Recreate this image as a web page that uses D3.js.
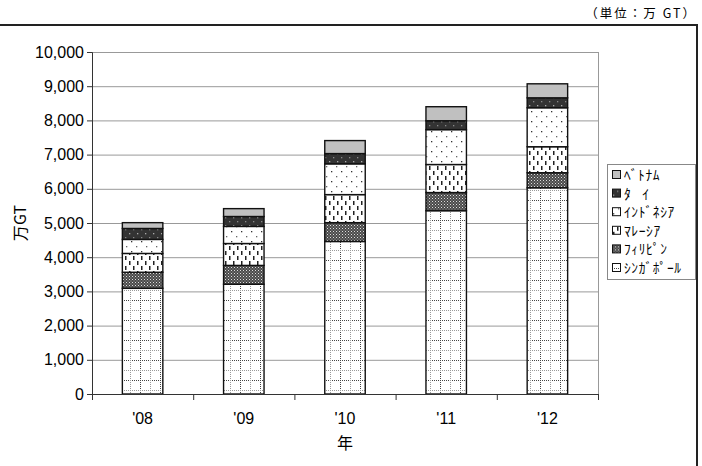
<!DOCTYPE html>
<html>
<head>
<meta charset="utf-8">
<script src="https://cdn.jsdelivr.net/npm/d3@7"></script>
<style>
  body { margin: 0; background: #fff; }
  text { font-family: "Liberation Sans", Arial, sans-serif; }
</style>
</head>
<body>
<div id="container"></div>
<script>
// data (万GT)
const years = ["'08", "'09", "'10", "'11", "'12"];
const countries = ["ｼﾝｶﾞﾎﾟｰﾙ", "ﾌｨﾘﾋﾟﾝ", "ﾏﾚｰｼｱ", "ｲﾝﾄﾞﾈｼｱ", "ﾀ   ｲ", "ﾍﾞﾄﾅﾑ"];
const singapore = [3090, 3210, 4460, 5360, 6030];
const philippines = [470, 550, 550, 530, 440];
const malaysia = [550, 640, 820, 820, 760];
const indonesia = [410, 500, 900, 1020, 1140];
const thailand = [320, 290, 300, 260, 290];
const vietnam = [170, 230, 380, 410, 410];
const yTicks = [0, 1000, 2000, 3000, 4000, 5000, 6000, 7000, 8000, 9000, 10000];

const seriesVals = [singapore, philippines, malaysia, indonesia, thailand, vietnam];
const keys = ["sg", "ph", "my", "id", "th", "vn"];

const width = 702, height = 466;
const margin = { top: 52, bottom: 72, left: 92, right: 104 };

const rows = years.map((y, i) => {
  const r = { year: y };
  keys.forEach((k, j) => r[k] = seriesVals[j][i]);
  return r;
});

const svg = d3.select("#container").append("svg")
  .attr("width", width).attr("height", height);

// patterns
const defs = svg.append("defs");
function pat(id, w, h, bg) {
  const p = defs.append("pattern").attr("id", id)
    .attr("patternUnits", "userSpaceOnUse").attr("width", w).attr("height", h);
  p.append("rect").attr("width", w).attr("height", h).attr("fill", bg);
  return p;
}
// singapore: dotted plaid
let p = pat("p-sg", 20, 20, "#fff");
[0, 10].forEach((o, i) => {
  const c = i === 0 ? "#444" : "#999";
  p.append("line").attr("x1", o + 0.5).attr("x2", o + 0.5).attr("y1", 0).attr("y2", 20)
    .attr("stroke", c).attr("stroke-dasharray", "1,1");
  p.append("line").attr("y1", o + 0.5).attr("y2", o + 0.5).attr("x1", 0).attr("x2", 20)
    .attr("stroke", c).attr("stroke-dasharray", "1,1");
});
// philippines: dense dark check
p = pat("p-ph", 3, 3, "#4a4a4a");
p.append("rect").attr("x", 0).attr("y", 0).attr("width", 1).attr("height", 1).attr("fill", "#ddd");
p.append("rect").attr("x", 1.5).attr("y", 1.5).attr("width", 1).attr("height", 1).attr("fill", "#aaa");
// malaysia: vertical dashes
p = pat("p-my", 8, 10, "#fff");
p.append("rect").attr("x", 1).attr("y", 1).attr("width", 1.5).attr("height", 4).attr("fill", "#222");
p.append("rect").attr("x", 5).attr("y", 6).attr("width", 1.5).attr("height", 4).attr("fill", "#222");
// indonesia: sparse dots
p = pat("p-id", 10, 10, "#fff");
p.append("rect").attr("x", 1).attr("y", 1).attr("width", 1.3).attr("height", 1.3).attr("fill", "#333");
p.append("rect").attr("x", 6).attr("y", 6).attr("width", 1.3).attr("height", 1.3).attr("fill", "#666");
// thailand: dark with light dots
p = pat("p-th", 8, 8, "#333");
p.append("rect").attr("x", 1).attr("y", 1).attr("width", 1.3).attr("height", 1.3).attr("fill", "#aaa");
p.append("rect").attr("x", 5).attr("y", 5).attr("width", 1.3).attr("height", 1.3).attr("fill", "#888");
// vietnam: plain grey
const fills = ["url(#p-sg)", "url(#p-ph)", "url(#p-my)", "url(#p-id)", "url(#p-th)", "#c0c0c0"];

const x = d3.scaleBand().domain(years)
  .range([margin.left, width - margin.right])
  .paddingInner(0.6).paddingOuter(0.3);
const y = d3.scaleLinear().domain([0, 10000])
  .range([height - margin.bottom, margin.top]);

// outer frame
svg.append("path")
  .attr("d", `M0,25 H697 V${height + 2}`)
  .attr("fill", "none").attr("stroke", "#222").attr("stroke-width", 2);

svg.append("text")
  .attr("x", 697).attr("y", 18)
  .attr("text-anchor", "end")
  .style("font-family", "'Noto Sans CJK JP', sans-serif")
  .style("font-size", "12.5px")
  .style("letter-spacing", "2px")
  .text("（単位：万 GT）");

// gridlines
svg.append("g").selectAll("line")
  .data(yTicks.filter(d => d > 0))
  .join("line")
  .attr("x1", margin.left).attr("x2", width - margin.right)
  .attr("y1", d => y(d) + 0.5).attr("y2", d => y(d) + 0.5)
  .attr("stroke", "#999");
svg.append("line")
  .attr("x1", width - margin.right + 0.5).attr("x2", width - margin.right + 0.5)
  .attr("y1", y(10000)).attr("y2", y(0))
  .attr("stroke", "#999");

// stacked bars
const stack = d3.stack().keys(keys)(rows);
svg.append("g").selectAll("g")
  .data(stack)
  .join("g")
  .attr("fill", (d, i) => fills[i])
  .selectAll("rect")
  .data(d => d)
  .join("rect")
  .attr("x", d => x(d.data.year))
  .attr("y", d => y(d[1]))
  .attr("width", x.bandwidth())
  .attr("height", d => y(d[0]) - y(d[1]))
  .attr("stroke", "#111").attr("stroke-width", 1.4);

// y axis
const yAxis = svg.append("g")
  .attr("transform", `translate(${margin.left},0)`)
  .call(d3.axisLeft(y).tickValues(yTicks).tickSize(5).tickPadding(3)
    .tickFormat(d3.format(",")));
yAxis.select(".domain").attr("stroke", "#333");
yAxis.selectAll(".tick line").attr("stroke", "#333");
yAxis.selectAll("text").style("font-size", "16px").attr("fill", "#000");

// x axis
const base = y(0);
svg.append("line")
  .attr("x1", margin.left).attr("x2", width - margin.right)
  .attr("y1", base + 0.5).attr("y2", base + 0.5).attr("stroke", "#333");
const step = x.step();
svg.append("g").selectAll("line")
  .data(d3.range(years.length + 1))
  .join("line")
  .attr("x1", i => margin.left + i * step + 0.5).attr("x2", i => margin.left + i * step + 0.5)
  .attr("y1", base).attr("y2", base + 6).attr("stroke", "#333");
svg.append("g").selectAll("text")
  .data(years)
  .join("text")
  .attr("x", d => x(d) + x.bandwidth() / 2)
  .attr("y", base + 30)
  .attr("text-anchor", "middle")
  .style("font-size", "16px")
  .text(d => d);

svg.append("text")
  .attr("x", (margin.left + width - margin.right) / 2)
  .attr("y", base + 55)
  .attr("text-anchor", "middle")
  .style("font-family", "'Noto Sans CJK JP', sans-serif")
  .style("font-size", "16px")
  .text("年");

svg.append("text")
  .attr("transform", `translate(26,${(y(0) + y(10000)) / 2}) rotate(-90)`)
  .attr("text-anchor", "middle")
  .style("font-family", "'Noto Sans CJK JP', sans-serif")
  .style("font-size", "16px")
  .text("万GT");

// legend
const legend = svg.append("g");
legend.append("rect")
  .attr("x", 607.5).attr("y", 164.5).attr("width", 88).attr("height", 115)
  .attr("fill", "#fff").attr("stroke", "#888");
const order = d3.range(countries.length).reverse();
const li = legend.selectAll("g.item")
  .data(order)
  .join("g").attr("class", "item")
  .attr("transform", (d, i) => `translate(612,${175 + i * 18.6})`);
li.append("rect")
  .attr("x", 0.5).attr("y", -4.5).attr("width", 8).attr("height", 8)
  .attr("fill", d => fills[d]).attr("stroke", "#111");
li.append("text")
  .attr("x", 12).attr("y", 5)
  .style("font-family", "'Noto Sans CJK JP', sans-serif")
  .style("font-size", "13.5px")
  .style("letter-spacing", "0.6px")
  .style("white-space", "pre")
  .text(d => countries[d]);
</script>
</body>
</html>
